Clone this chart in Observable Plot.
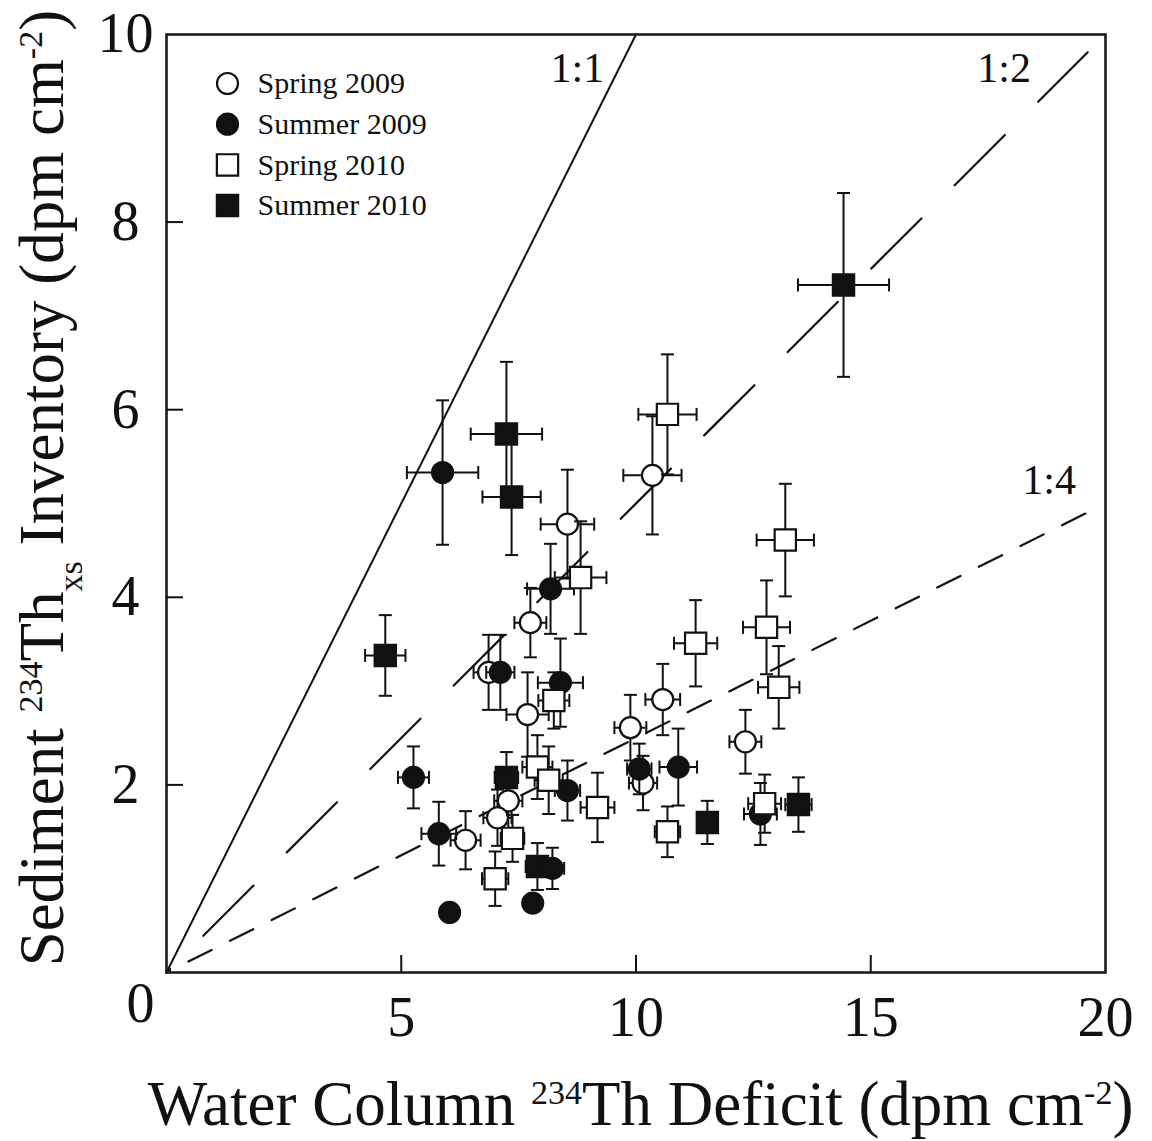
<!DOCTYPE html>
<html>
<head>
<meta charset="utf-8">
<script src="https://cdn.jsdelivr.net/npm/d3@7"></script>
<script src="https://cdn.jsdelivr.net/npm/@observablehq/plot@0.6"></script>
<style>
  html, body { margin: 0; padding: 0; background: #fff; }
</style>
</head>
<body>
<div id="chart"></div>
<script>
// Each station: [deficit, inventory, deficit error, inventory error] (dpm cm^-2)
const spring2009 = [
  [10.35, 5.30, 0.62, 0.63], [8.54, 4.78, 0.57, 0.58], [7.75, 3.73, 0.34, 0.37],
  [6.86, 3.20, 0.32, 0.40], [7.69, 2.75, 0.45, 0.45], [9.88, 2.61, 0.34, 0.35],
  [10.57, 2.91, 0.37, 0.38], [12.33, 2.46, 0.34, 0.34], [10.15, 2.02, 0.30, 0.29],
  [7.28, 1.83, 0.30, 0.30], [7.05, 1.65, 0.30, 0.30], [6.37, 1.41, 0.32, 0.31]
];
const summer2009 = [
  [5.88, 5.33, 0.76, 0.77], [8.18, 4.09, 0.50, 0.48], [7.11, 3.20, 0.30, 0.40],
  [8.39, 3.09, 0.48, 0.47], [5.26, 2.08, 0.33, 0.33], [5.80, 1.48, 0.37, 0.34],
  [6.03, 0.64, 0, 0], [7.80, 0.74, 0, 0], [8.22, 1.11, 0.25, 0.22],
  [8.54, 1.94, 0.27, 0.32], [10.07, 2.17, 0.26, 0.27], [10.90, 2.19, 0.40, 0.41],
  [12.65, 1.69, 0.35, 0.33]
];
const spring2010 = [
  [10.67, 5.95, 0.62, 0.64], [13.18, 4.61, 0.61, 0.60], [8.82, 4.21, 0.55, 0.60],
  [11.27, 3.51, 0.46, 0.46], [12.78, 3.68, 0.50, 0.50], [13.04, 3.04, 0.44, 0.44],
  [8.25, 2.90, 0.33, 0.30], [7.90, 2.19, 0.32, 0.34], [8.14, 2.05, 0.30, 0.36],
  [9.18, 1.76, 0.36, 0.37], [7.37, 1.43, 0.25, 0.25], [7.00, 1.00, 0.28, 0.29],
  [10.67, 1.50, 0.27, 0.27], [12.74, 1.80, 0.35, 0.31]
];
const summer2010 = [
  [4.66, 3.38, 0.43, 0.43], [7.24, 5.74, 0.76, 0.77], [7.35, 5.07, 0.62, 0.62],
  [14.42, 7.33, 0.97, 0.98], [7.24, 2.08, 0.25, 0.27], [7.90, 1.13, 0.25, 0.25],
  [11.52, 1.60, 0.20, 0.23], [13.46, 1.79, 0.28, 0.29]
];

// Series in drawing order, plus legend order
const seriesNames = ["Spring 2009", "Summer 2009", "Spring 2010", "Summer 2010"];
const drawOrder = ["Summer 2010", "Spring 2009", "Summer 2009", "Spring 2010"];

// Reference ratio lines (sediment : water column) and their labels
const line11 = [[0, 0], [10, 10]];
const line12 = [[0, 0], [19.62, 9.81]];
const line14 = [[0, 0], [19.6, 4.9]];
const ratioLabels = [
  {text: "1:1", x: 8.75, y: 9.64},
  {text: "1:2", x: 17.84, y: 9.64},
  {text: "1:4", x: 18.8, y: 5.24}
];

const xTickValues = [5, 10, 15];
const yTickValues = [2, 4, 6, 8];
const xTickLabels = [0, 5, 10, 15, 20];
const yTickLabels = [2, 4, 6, 8, 10];

const ink = "#111";
const serif = "'Liberation Serif', 'Times New Roman', Times, serif";

const styles = {
  "Spring 2009": {symbol: "circle", fill: "white"},
  "Summer 2009": {symbol: "circle", fill: ink},
  "Spring 2010": {symbol: "square", fill: "white"},
  "Summer 2010": {symbol: "square", fill: ink}
};
const seriesData = {
  "Spring 2009": spring2009,
  "Summer 2009": summer2009,
  "Spring 2010": spring2010,
  "Summer 2010": summer2010
};
const rows = name => seriesData[name].map(([x, y, xe, ye]) => ({series: name, x, y, xe, ye}));

// Short cap glyphs for the ends of the error bars
const capHorizontal = {draw(ctx) { ctx.moveTo(-6.5, 0); ctx.lineTo(6.5, 0); }};
const capVertical = {draw(ctx) { ctx.moveTo(0, -6.5); ctx.lineTo(0, 6.5); }};

const width = 1152, height = 1141;
const marginLeft = 166, marginRight = 47, marginTop = 34, marginBottom = 169;
const innerW = width - marginLeft - marginRight;
const innerH = height - marginTop - marginBottom;

function markerSize(symbol) { return symbol === "circle" ? 10.5 : 12; }

function seriesMarks(name) {
  const data = rows(name);
  const withY = data.filter(d => d.ye > 0);
  const withX = data.filter(d => d.xe > 0);
  const st = styles[name];
  const err = {stroke: ink, strokeWidth: 2};
  return [
    Plot.ruleX(withY, {x: "x", y1: d => d.y - d.ye, y2: d => d.y + d.ye, ...err}),
    Plot.ruleY(withX, {y: "y", x1: d => d.x - d.xe, x2: d => d.x + d.xe, ...err}),
    Plot.dot(withY, {x: "x", y: d => d.y + d.ye, symbol: capHorizontal, r: 5, fill: "none", ...err}),
    Plot.dot(withY, {x: "x", y: d => d.y - d.ye, symbol: capHorizontal, r: 5, fill: "none", ...err}),
    Plot.dot(withX, {x: d => d.x + d.xe, y: "y", symbol: capVertical, r: 5, fill: "none", ...err}),
    Plot.dot(withX, {x: d => d.x - d.xe, y: "y", symbol: capVertical, r: 5, fill: "none", ...err}),
    Plot.dot(data, {x: "x", y: "y", symbol: st.symbol, r: markerSize(st.symbol),
      fill: st.fill, stroke: ink, strokeWidth: 2.2})
  ];
}

const legendMarks = seriesNames.flatMap((name, i) => {
  const st = styles[name];
  const dy = 49 + i * 40.7;
  return [
    Plot.dot([name], {frameAnchor: "top-left", dx: 61, dy, symbol: st.symbol,
      r: markerSize(st.symbol), fill: st.fill, stroke: ink, strokeWidth: 2.2}),
    Plot.text([name], {frameAnchor: "top-left", dx: 91, dy, text: d => d,
      textAnchor: "start", lineAnchor: "middle", fontSize: 30, fontFamily: serif, fill: ink})
  ];
});

const chart = Plot.plot({
  width, height, marginLeft, marginRight, marginTop, marginBottom,
  style: {fontFamily: serif, background: "white", color: ink},
  x: {domain: [0, 20], axis: null},
  y: {domain: [0, 10], axis: null},
  marks: [
    // ratio lines
    Plot.line(line11, {x: d => d[0], y: d => d[1], stroke: ink, strokeWidth: 2}),
    Plot.line(line12, {x: d => d[0], y: d => d[1], stroke: ink, strokeWidth: 2.2,
      strokeDasharray: "71,47", strokeDashoffset: 66}),
    Plot.line(line14, {x: d => d[0], y: d => d[1], stroke: ink, strokeWidth: 2.2,
      strokeDasharray: "26,20.5", strokeDashoffset: 22}),
    Plot.text(ratioLabels, {x: "x", y: "y", text: "text", fontSize: 42,
      fontFamily: serif, fill: ink, textAnchor: "middle", lineAnchor: "middle"}),
    // data series with error bars
    ...drawOrder.flatMap(seriesMarks),
    // legend
    ...legendMarks,
    // frame and inward ticks
    Plot.frame({stroke: "#1c1c1c", strokeWidth: 2.6}),
    Plot.ruleX(xTickValues, {x: d => d, insetTop: innerH - 17, stroke: ink, strokeWidth: 2}),
    Plot.ruleY(yTickValues, {y: d => d, insetRight: innerW - 17, stroke: ink, strokeWidth: 2}),
    // tick labels
    Plot.text(xTickLabels.filter(v => v !== 0), {x: d => d, text: d => String(d),
      frameAnchor: "bottom", dy: 46, lineAnchor: "middle", fontSize: 56, fontFamily: serif, fill: ink}),
    Plot.text(xTickLabels.filter(v => v === 0), {x: d => d, text: d => String(d),
      frameAnchor: "bottom", dx: -26, dy: 32, lineAnchor: "middle", fontSize: 56, fontFamily: serif, fill: ink}),
    Plot.text(yTickLabels, {y: d => d, text: d => String(d), frameAnchor: "left",
      dx: -41, textAnchor: "middle", lineAnchor: "middle", fontSize: 56, fontFamily: serif, fill: ink})
  ]
});

// Axis titles with superscripts and subscripts
const svg = d3.select(chart);
function richText(g, parts, size, small) {
  const t = g.append("text")
    .attr("text-anchor", "middle")
    .attr("font-family", serif)
    .attr("font-size", size)
    .attr("fill", ink);
  let shift = 0;
  for (const [str, kind] of parts) {
    const target = kind === "sup" ? -21 : kind === "sub" ? 19 : 0;
    t.append("tspan")
      .attr("dy", target - shift)
      .attr("font-size", kind ? small : size)
      .text(str);
    shift = target;
  }
  return t;
}
richText(svg.append("g").attr("transform", `translate(${marginLeft + innerW / 2 + 5},1125)`), [
  ["Water Column "], ["234", "sup"], ["Th Deficit (dpm cm"], ["-2", "sup"], [")"]
], 63, 34);
richText(svg.append("g").attr("transform", "translate(63,488) rotate(-90)"), [
  ["Sediment "], ["234", "sup"], ["Th"], ["xs", "sub"], [" Inventory (dpm cm"], ["-2", "sup"], [")"]
], 63, 34);

document.getElementById("chart").appendChild(chart);
</script>
</body>
</html>
